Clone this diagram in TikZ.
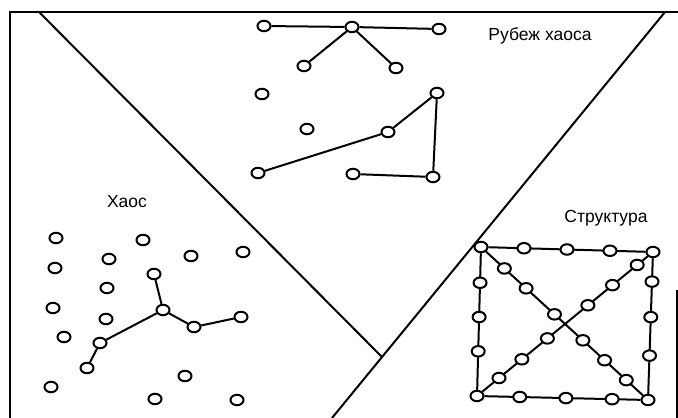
\documentclass[tikz,border=0pt]{standalone}
\usepackage{fontspec}
\setmainfont{Liberation Sans}
\usetikzlibrary{calc,shapes.geometric}

\begin{document}
\begin{tikzpicture}[x=1pt,y=-1pt,font=\fontsize{17.5}{20}\selectfont,
  dot/.style={ellipse,draw,line width=2pt,fill=white,minimum width=13pt,minimum height=10.5pt,inner sep=0pt},
  link/.style={line width=2pt},
  border/.style={line width=2.6pt}]
  \useasboundingbox (0,0) rectangle (678,418);
  % frame and zone borders
  \draw[border] (10,418) -- (10,12) -- (678,12);
  \draw[line width=1.2pt] (677,290) -- (677,418);
  \coordinate (za) at (39,12);
  \coordinate (zb) at (665,12);
  \coordinate (zj) at (382,357);
  \coordinate (zc) at (332,418);
  \draw[link] (za) -- (zj);
  \draw[link] (zb) -- (zc);
  % labels
  \node (lrub) at (540,36) {Рубеж хаоса};
  \node (lhaos) at (127,202) {Хаос};
  \node (lstr) at (606,218) {Структура};
  % edge of chaos
  \foreach \n/\p in {b1/{264,26},b2/{352,27},b3/{439,29},b4/{304,66},b5/{396,68},b6/{262,94},
      b7/{437,93},b8/{307,129},b9/{388,132},b10/{258,173},b11/{353,174},b12/{433,177}}
    \node[dot] (\n) at (\p) {};
  \draw[link] (b1) -- (b2) -- (b3) (b2) -- (b4) (b2) -- (b5);
  \draw[link] (b10) -- (b9) -- (b7) -- (b12) -- (b11);
  % chaos
  \foreach \n/\p in {h1/{56,238},h2/{143,240},h3/{191,256},h4/{243,252},h5/{55,268},h6/{109,259},
      h7/{154,274},h8/{107,288},h9/{53,308},h10/{163,310},h11/{106,319},h12/{194,327},h13/{241,317},
      h14/{64,337},h15/{100,343},h16/{87,368},h17/{51,387},h18/{185,376},h19/{155,399},h20/{237,400}}
    \node[dot] (\n) at (\p) {};
  \draw[link] (h16) -- (h15) -- (h10) -- (h7) (h10) -- (h12) -- (h13);
  % structure
  \node[dot] (tl) at (481,247) {};
  \node[dot] (tr) at (653,252) {};
  \node[dot] (bl) at (477,396) {};
  \node[dot] (br) at (648,400) {};
  \draw[link] (tl) -- (tr) -- (br) -- (bl) -- (tl) (tl) -- (br) (bl) -- (tr);
  \foreach \a/\b/\l in {tl/tr/{0.25,0.5,0.75},bl/br/{0.25,0.52,0.79},tl/bl/{0.24,0.47,0.7},
      tr/br/{0.2,0.44,0.7},tl/br/{0.14,0.27,0.44,0.61,0.74,0.87},bl/tr/{0.125,0.255,0.4,0.63,0.77,0.91}}
    \foreach \f [count=\i] in \l
      \node[dot] (\a\b\i) at ($(\a)!\f!(\b)$) {};
\end{tikzpicture}
\end{document}
